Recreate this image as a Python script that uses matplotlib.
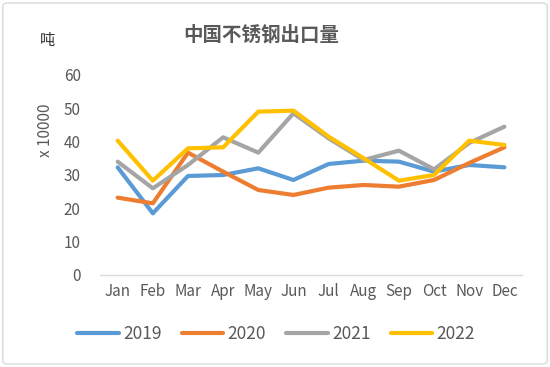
import matplotlib

matplotlib.use("Agg")
import matplotlib.pyplot as plt
from matplotlib.patches import FancyBboxPatch

plt.rcParams["font.family"] = ["Noto Sans CJK SC", "DejaVu Sans"]

months = ["Jan", "Feb", "Mar", "Apr", "May", "Jun",
          "Jul", "Aug", "Sep", "Oct", "Nov", "Dec"]
years = ["2019", "2020", "2021", "2022"]
exports_2019 = [32.3, 18.5, 29.7, 30.0, 32.0, 28.5, 33.3, 34.3, 34.0, 31.0, 33.0, 32.3]
exports_2020 = [23.2, 21.5, 36.7, 31.0, 25.5, 24.0, 26.2, 27.0, 26.5, 28.5, 33.6, 38.3]
exports_2021 = [34.0, 26.0, 33.0, 41.3, 36.7, 48.5, 41.0, 34.5, 37.3, 31.7, 39.6, 44.5]
exports_2022 = [40.3, 28.3, 38.0, 38.3, 49.0, 49.3, 41.5, 35.0, 28.3, 30.0, 40.3, 39.0]
series = [exports_2019, exports_2020, exports_2021, exports_2022]
colors = ["#5B9BD5", "#ED7D31", "#A5A5A5", "#FFC000"]
text_color = "#595959"

fig = plt.figure(figsize=(5.5, 3.67), dpi=100)
ax = fig.add_axes([0.182, 0.2507, 0.767, 0.545])

x = list(range(len(months)))
for label, values, color in zip(years, series, colors):
    ax.plot(x, values, color=color, linewidth=3, label=label,
            solid_joinstyle="round", solid_capstyle="round")

ax.set_xlim(-0.5, len(months) - 0.5)
ax.set_ylim(0, 60)
ax.set_yticks(range(0, 61, 10))
ax.set_xticks(x)
ax.set_xticklabels(months)
ax.tick_params(length=0, labelsize=11, colors=text_color)
ax.tick_params(axis="y", pad=14)
ax.tick_params(axis="x", pad=6)
for side in ["top", "right", "left"]:
    ax.spines[side].set_visible(False)
ax.spines["bottom"].set_color("#D9D9D9")
ax.spines["bottom"].set_linewidth(1)

fig.text(0.082, 0.645, "x 10000", rotation=90, ha="center", va="center",
         fontsize=11, color=text_color)
fig.text(0.086, 0.89, "吨", ha="center", va="center", fontsize=11, color="#333333")
fig.text(0.475, 0.905, "中国不锈钢出口量", ha="center", va="center",
         fontsize=14, fontweight="bold", color=text_color)

fig.legend(loc="center", bbox_to_anchor=(0.502, 0.09), ncol=4, frameon=False,
           fontsize=12.5, handlelength=2.4, handletextpad=0.25, columnspacing=1.15,
           labelcolor=text_color)

fig.patches.append(FancyBboxPatch((0.005, 0.008), 0.99, 0.984,
                                  boxstyle="round,pad=0,rounding_size=0.01",
                                  transform=fig.transFigure, facecolor="none",
                                  edgecolor="#D9D9D9", linewidth=1))

fig.savefig("out.png", dpi=100)
